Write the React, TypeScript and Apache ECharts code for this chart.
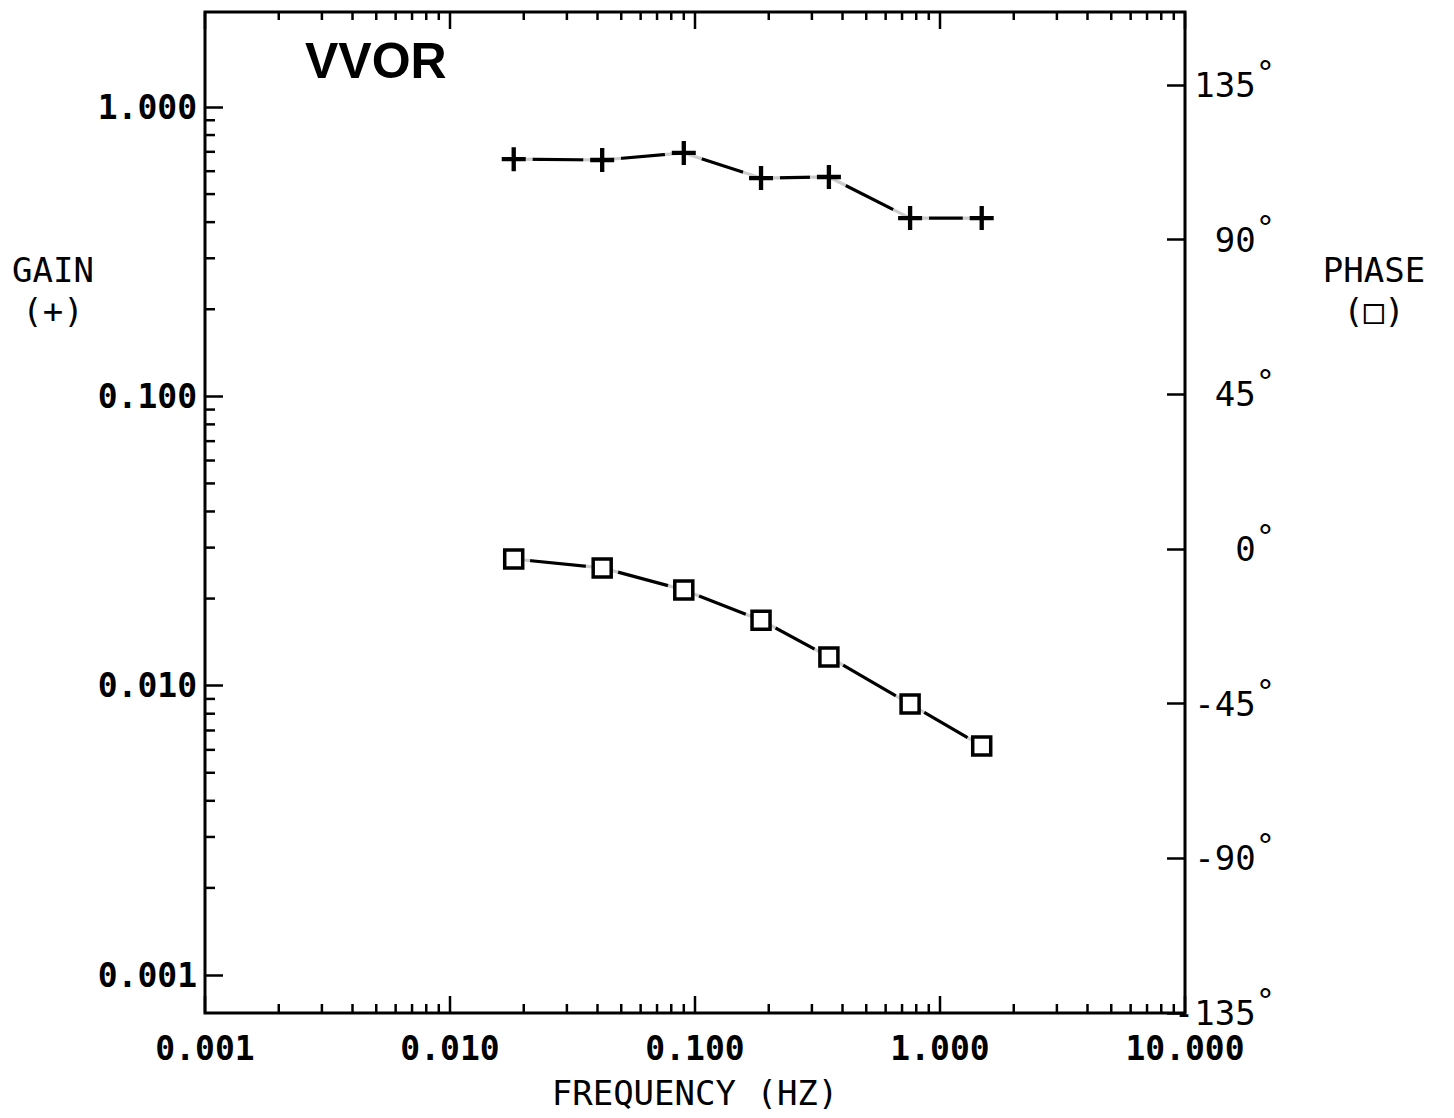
import React, { useEffect, useRef } from "react";
import * as echarts from "echarts";

const MONO = "'DejaVu Sans Mono', monospace";

// Test frequencies (Hz)
const frequencies = [0.0182, 0.0418, 0.09, 0.186, 0.352, 0.755, 1.48];
// Gain (+), log scale
const gainValues = [0.66, 0.656, 0.694, 0.568, 0.573, 0.413, 0.413];
// Phase (□), degrees
const phaseValues = [-2.9, -5.5, -11.9, -20.7, -31.4, -45.1, -57.3];

const xMajorTicks = [0.001, 0.01, 0.1, 1, 10];
const xMinorTicks = [
  0.002, 0.003, 0.004, 0.005, 0.006, 0.007, 0.008, 0.009,
  0.02, 0.03, 0.04, 0.05, 0.06, 0.07, 0.08, 0.09,
  0.2, 0.3, 0.4, 0.5, 0.6, 0.7, 0.8, 0.9,
  2, 3, 4, 5, 6, 7, 8, 9,
];
const gainMinorTicks = [
  0.002, 0.003, 0.004, 0.005, 0.006, 0.007, 0.008, 0.009,
  0.02, 0.03, 0.04, 0.05, 0.06, 0.07, 0.08, 0.09,
  0.2, 0.3, 0.4, 0.5, 0.6, 0.7, 0.8, 0.9,
];

const PLUS = "path://M0,8.2L20,8.2L20,11.8L0,11.8Z M8.2,0L11.8,0L11.8,20L8.2,20Z";

const LEFT = 205;
const WIDTH = 980;

export default function App() {
  const ref = useRef<HTMLDivElement>(null);

  useEffect(() => {
    if (!ref.current) return;
    const chart = echarts.init(ref.current, undefined, { renderer: "svg" });
    const ink = "#000";
    const tickStyle = { stroke: ink, lineWidth: 2.5 };

    const gainData = frequencies.map((f, i) => [f, gainValues[i]]);
    const phaseData = frequencies.map((f, i) => [f, phaseValues[i]]);

    const option: any = {
      animation: false,
      backgroundColor: "#fff",
      grid: [
        { left: LEFT, width: WIDTH, top: 12, bottom: 105, show: true, borderColor: ink, borderWidth: 3, backgroundColor: "transparent", outerBoundsMode: "none" },
        { left: LEFT, width: WIDTH, top: 107, bottom: 143, outerBoundsMode: "none" },
        { left: LEFT, width: WIDTH, top: 85, bottom: 105, outerBoundsMode: "none" },
      ],
      xAxis: [
        {
          type: "log", logBase: 10, min: 0.001, max: 10, gridIndex: 0,
          axisLine: { show: false }, axisTick: { show: false }, splitLine: { show: false },
          axisLabel: {
            formatter: (v: number) => v.toFixed(3),
            fontFamily: MONO, fontWeight: "bold", fontSize: 33, color: ink, margin: 21,
            lineHeight: 28,
          },
          name: "FREQUENCY (HZ)", nameLocation: "middle", nameGap: 80,
          nameTextStyle: { fontFamily: MONO, fontSize: 34, color: ink, verticalAlign: "middle" },
        },
        { type: "log", logBase: 10, min: 0.001, max: 10, gridIndex: 1, show: false },
        { type: "log", logBase: 10, min: 0.001, max: 10, gridIndex: 2, show: false },
      ],
      yAxis: [
        { type: "value", min: 0, max: 1, gridIndex: 0, show: false },
        {
          type: "log", logBase: 10, min: 0.001, max: 1, gridIndex: 1, position: "left",
          axisLine: { show: false }, splitLine: { show: false },
          axisTick: { show: true, inside: true, length: 18, lineStyle: { color: ink, width: 2.5 } },
          axisLabel: {
            formatter: (v: number) => v.toFixed(3),
            fontFamily: MONO, fontWeight: "bold", fontSize: 33, color: ink, margin: 8,
          },
        },
        {
          type: "value", min: -135, max: 135, interval: 45, gridIndex: 2, position: "right",
          axisLine: { show: false }, splitLine: { show: false },
          axisTick: { show: true, inside: true, length: 18, lineStyle: { color: ink, width: 2.5 } },
          axisLabel: {
            align: "right", margin: 90,
            formatter: (v: number) => `{n|${v}}{d|°}`,
            rich: {
              n: { fontFamily: MONO, fontSize: 34, color: ink, lineHeight: 28 },
              d: { fontFamily: MONO, fontSize: 32, color: ink, verticalAlign: "top", padding: [-14, 0, 0, 0] },
            },
          },
        },
      ],
      series: [
        {
          type: "custom", xAxisIndex: 0, yAxisIndex: 0, silent: true, z: 6, clip: false,
          data: xMinorTicks.map((v) => [v, 0, 0]).concat(xMajorTicks.map((v) => [v, 0, 1])),
          renderItem: (_p: any, api: any) => {
            const v = api.value(0);
            const major = api.value(2) === 1;
            const b = api.coord([v, 0]);
            const t = api.coord([v, 1]);
            const lb = major ? 17 : 9;
            const lt = major ? 17 : 8;
            return {
              type: "group",
              children: [
                { type: "line", shape: { x1: b[0], y1: b[1], x2: b[0], y2: b[1] - lb }, style: tickStyle },
                { type: "line", shape: { x1: t[0], y1: t[1], x2: t[0], y2: t[1] + lt }, style: tickStyle },
              ],
            };
          },
        },
        {
          type: "custom", xAxisIndex: 1, yAxisIndex: 1, silent: true, z: 6, clip: false,
          data: gainMinorTicks.map((v) => [0.001, v]),
          renderItem: (_p: any, api: any) => {
            const p = api.coord([api.value(0), api.value(1)]);
            return { type: "line", shape: { x1: p[0], y1: p[1], x2: p[0] + 10, y2: p[1] }, style: tickStyle };
          },
        },
        {
          name: "Gain", type: "line", xAxisIndex: 1, yAxisIndex: 1, data: gainData,
          symbol: "none", lineStyle: { color: ink, width: 3.2 }, z: 2,
        },
        {
          type: "scatter", xAxisIndex: 1, yAxisIndex: 1, data: gainData, silent: true,
          symbol: "circle", symbolSize: 38, itemStyle: { color: "#fff" }, z: 3,
        },
        {
          type: "scatter", xAxisIndex: 1, yAxisIndex: 1, data: gainData,
          symbol: PLUS, symbolSize: 24, itemStyle: { color: ink, opacity: 1 }, z: 4,
        },
        {
          name: "Phase", type: "line", xAxisIndex: 2, yAxisIndex: 2, data: phaseData,
          symbol: "none", lineStyle: { color: ink, width: 3.2 }, z: 2,
        },
        {
          type: "scatter", xAxisIndex: 2, yAxisIndex: 2, data: phaseData, silent: true,
          symbol: "circle", symbolSize: 33, itemStyle: { color: "#fff" }, z: 3,
        },
        {
          type: "scatter", xAxisIndex: 2, yAxisIndex: 2, data: phaseData,
          symbol: "rect", symbolSize: 18,
          itemStyle: { color: "#fff", borderColor: ink, borderWidth: 3.5, opacity: 1 }, z: 4,
        },
      ],
      graphic: [
        {
          type: "text", x: 305, y: 61,
          style: { text: "VVOR", font: "bold 50px 'Liberation Sans', Arial, sans-serif", fill: ink, verticalAlign: "middle", align: "left" },
        },
        {
          type: "text", x: 53, y: 290,
          style: { text: "GAIN\n(+)", font: `34px ${MONO}`, lineHeight: 41, fill: ink, align: "center", verticalAlign: "middle" },
        },
        {
          type: "text", x: 1374, y: 290,
          style: { text: "PHASE\n(□)", font: `34px ${MONO}`, lineHeight: 41, fill: ink, align: "center", verticalAlign: "middle" },
        },
      ],
    };

    chart.setOption(option);
    return () => chart.dispose();
  }, []);

  return (
    <div
      ref={ref}
      style={{ position: "absolute", left: 0, top: 0, width: 1454, height: 1118, background: "#fff" }}
    />
  );
}
